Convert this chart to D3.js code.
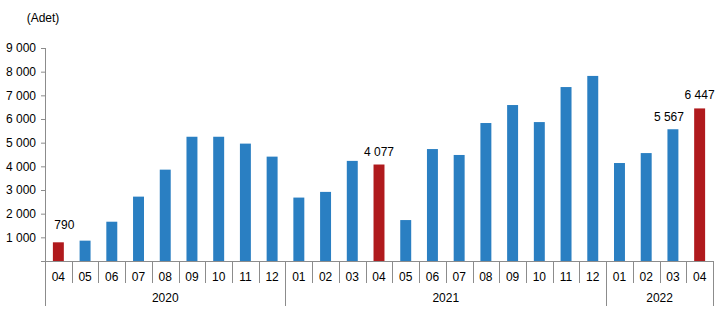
<!DOCTYPE html>
<html><head><meta charset="utf-8">
<script src="https://cdn.jsdelivr.net/npm/d3@7"></script>
<style>body{margin:0;background:#fff}svg{display:block}text{font-family:"Liberation Sans",Arial,sans-serif;fill:#000}</style>
</head><body>
<svg id="c" width="721" height="334"></svg>
<script>
const months = ["04","05","06","07","08","09","10","11","12","01","02","03","04","05","06","07","08","09","10","11","12","01","02","03","04"];
const years = ["2020","2020","2020","2020","2020","2020","2020","2020","2020","2021","2021","2021","2021","2021","2021","2021","2021","2021","2021","2021","2021","2022","2022","2022","2022"];
const values = [790,860,1660,2720,3860,5250,5250,4960,4410,2680,2920,4230,4077,1730,4730,4480,5830,6590,5870,7350,7820,4140,4560,5567,6447];
const highlighted = [0,12,24];
const labelled = [0,12,23,24];
const yTicks = [1000,2000,3000,4000,5000,6000,7000,8000,9000];
const unitLabel = "(Adet)";

const svg = d3.select("#c");
const blue = "#2a7fc2", red = "#b01a1d", grey = "#8c8c8c";
const x0 = 45, x1 = 713, yTop = 48, yBase = 261;
const idx = d3.range(values.length);
const x = d3.scaleBand().domain(idx).range([x0, x1]).paddingInner(0.59).paddingOuter(0.295);
const y = d3.scaleLinear().domain([0, 9000]).range([yBase, yTop]);
const fmt = v => d3.format(",")(v).replace(/,/g, " ");

svg.append("text").attr("x", 43).attr("y", 22).attr("text-anchor", "middle").style("font-size", "12px").text(unitLabel);

// y axis
const ya = svg.append("g").attr("transform", `translate(${x0},0)`)
  .call(d3.axisLeft(y).tickValues(yTicks).tickSize(4).tickSizeOuter(0).tickFormat(fmt));
ya.select(".domain").remove();
ya.selectAll(".tick line").attr("stroke", grey);
ya.selectAll(".tick text").attr("x", -9).style("font-size", "12px").style("font-family", '"Liberation Sans",Arial,sans-serif').attr("fill", "#000");
svg.append("line").attr("x1", x0 + 0.5).attr("x2", x0 + 0.5).attr("y1", y(9000)).attr("y2", 306).attr("stroke", grey);

// bars
svg.selectAll("rect.bar").data(idx).join("rect").attr("class", "bar")
  .attr("x", i => x(i)).attr("width", x.bandwidth())
  .attr("y", i => y(values[i])).attr("height", i => yBase - y(values[i]))
  .attr("fill", i => highlighted.includes(i) ? red : blue);

// value labels
svg.selectAll("text.val").data(labelled).join("text").attr("class", "val")
  .attr("x", i => x(i) + x.bandwidth() / 2 + (i === 0 ? 6 : (i === 23 ? -4 : 0)))
  .attr("y", i => y(values[i]) - (i === 0 ? 13 : (i === 23 ? 8 : 9)))
  .attr("text-anchor", "middle").style("font-size", "12px").text(i => fmt(values[i]));

// x axis
svg.append("line").attr("x1", 41).attr("x2", x1).attr("y1", yBase + 0.5).attr("y2", yBase + 0.5).attr("stroke", grey);
const step = x.step();
idx.forEach(i => {
  const bx = x0 + step * (i + 1);
  const yearEnd = i === idx.length - 1 || years[i] !== years[i + 1];
  svg.append("line").attr("x1", Math.round(bx) + 0.5).attr("x2", Math.round(bx) + 0.5)
    .attr("y1", yBase).attr("y2", yearEnd ? 306 : 283).attr("stroke", grey);
});
svg.selectAll("text.m").data(idx).join("text").attr("class", "m")
  .attr("x", i => x(i) + x.bandwidth() / 2).attr("y", 281)
  .attr("text-anchor", "middle").style("font-size", "12px").text(i => months[i]);

const yearGroups = d3.groups(idx, i => years[i]);
svg.selectAll("text.yr").data(yearGroups).join("text").attr("class", "yr")
  .attr("x", d => (x0 + step * d[1][0] + x0 + step * (d[1][d[1].length - 1] + 1)) / 2)
  .attr("y", 302).attr("text-anchor", "middle").style("font-size", "12px").text(d => d[0]);
</script>
</body></html>
